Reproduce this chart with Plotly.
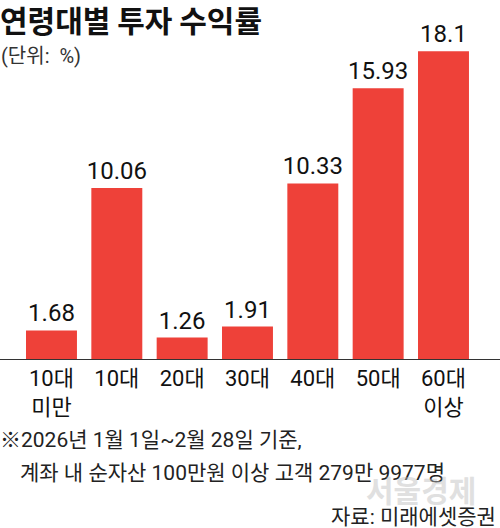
import plotly.graph_objects as go

연령대 = ["10대<br>미만", "10대", "20대", "30대", "40대", "50대", "60대<br>이상"]
수익률 = [1.68, 10.06, 1.26, 1.91, 10.33, 15.93, 18.1]

RED = "#EE4139"
FONT = "Roboto, Noto Sans CJK KR, sans-serif"
KR = "Noto Sans CJK KR, sans-serif"

fig = go.Figure(go.Bar(
    x=list(range(len(연령대))),
    y=수익률,
    marker_color=RED,
    marker_line_width=0,
    width=0.78,
    text=[f"{v:g}" for v in 수익률],
    textposition="outside",
    constraintext="none",
    textfont=dict(family=FONT, size=24, color="#111"),
    cliponaxis=False,
))

fig.update_xaxes(
    range=[-0.788, 6.865],
    tickmode="array",
    tickvals=list(range(len(연령대))),
    ticktext=연령대,
    tickfont=dict(family=FONT, size=22, color="#111"),
    showline=True, linecolor="#333", linewidth=1,
    showgrid=False, zeroline=False, ticks="",
)
fig.update_yaxes(range=[0, 20], visible=False)


def note(text, x, y, anchor, dx, dy, size, color="#222", family=FONT, **kw):
    fig.add_annotation(text=text, x=x, y=y, xref="paper", yref="paper",
                       xanchor=anchor, yanchor="middle", xshift=dx, yshift=dy,
                       showarrow=False, font=dict(family=family, size=size, color=color), **kw)


note("<b>연령대별 투자 수익률</b>", 0, 1, "left", -2, 0, 30, "#111", KR)
note("(단위:  %)", 0, 1, "left", -1, -37, 20, "#333")
note("※2026년 1월 1일~2월 28일 기준,", 0, 0, "left", -2, -81, 21)
note("계좌 내 순자산 100만원 이상 고객 279만 9977명", 0, 0, "left", 18, -114, 21)
note("<b>서울경제</b>", 1, 0, "right", -22, -130, 30, "#bbb", KR, opacity=0.45)
note("자료: 미래에셋증권", 1, 0, "right", -2, -158, 21)

fig.update_layout(
    width=500, height=528,
    paper_bgcolor="white", plot_bgcolor="white",
    margin=dict(t=19, b=169, l=0, r=0),
    showlegend=False,
    font=dict(family=FONT),
)

fig.write_html("out.html", config={"displayModeBar": False},
               post_script="document.body.style.margin='0';")
